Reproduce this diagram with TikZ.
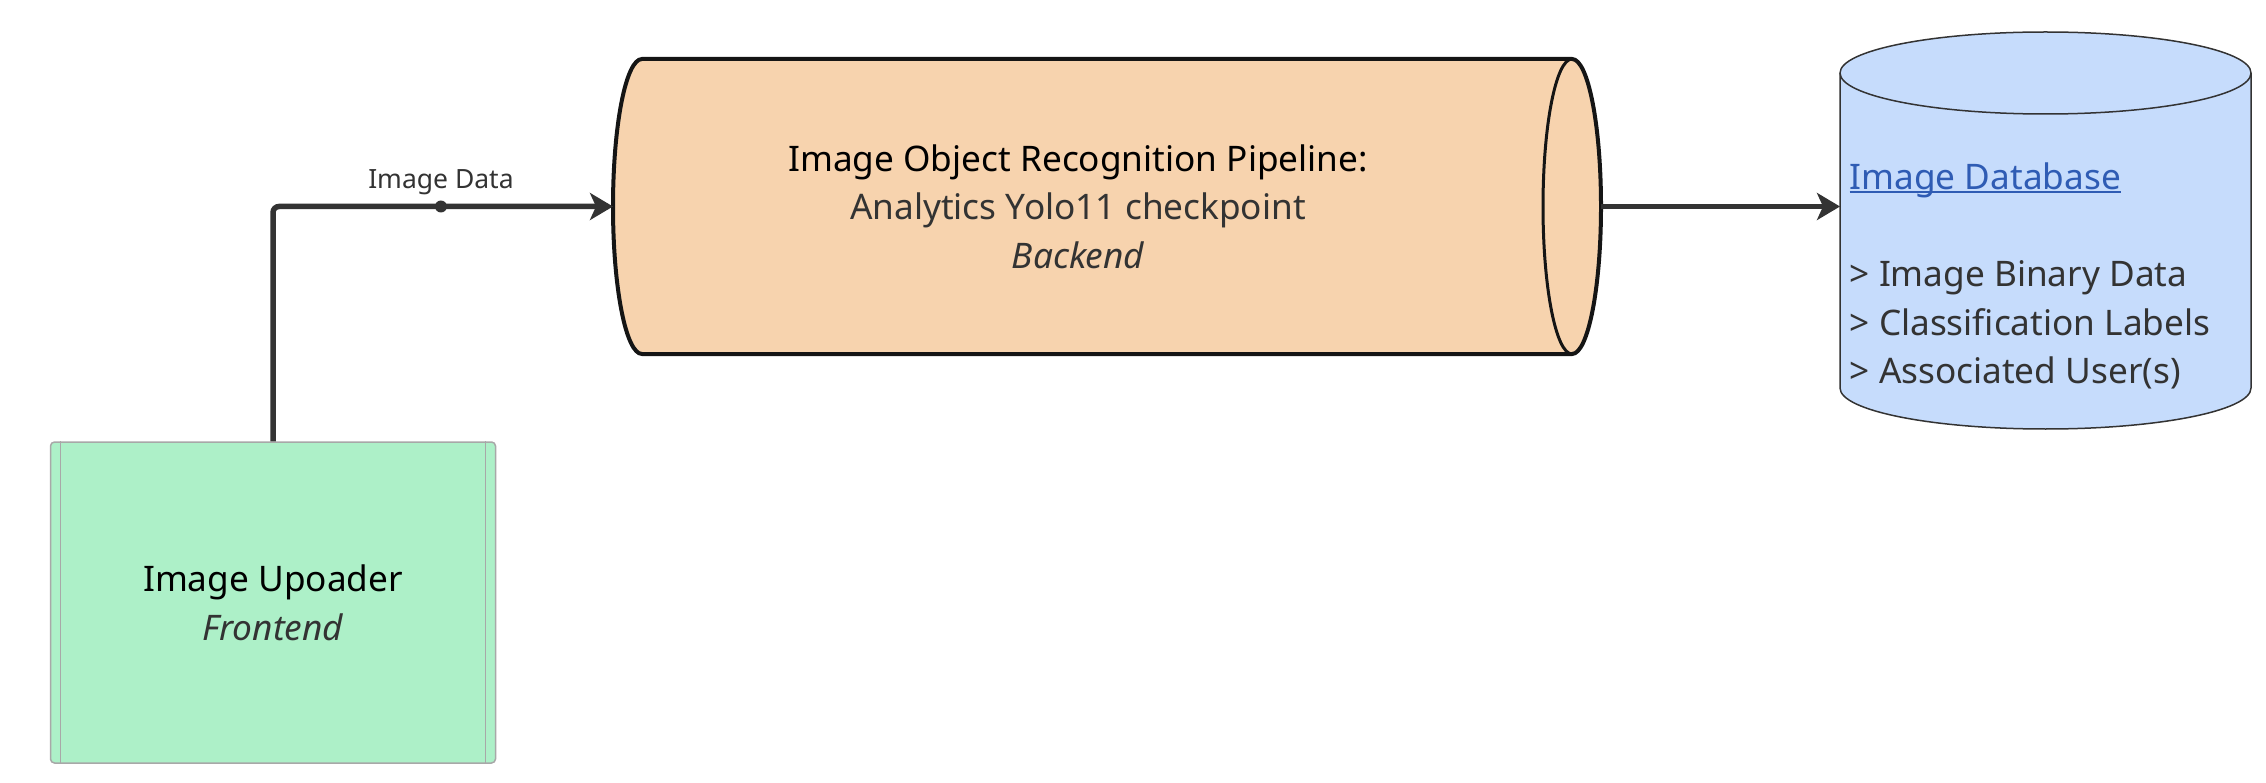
\documentclass[tikz,border=0pt]{standalone}
\usepackage{fontspec}
\setmainfont{Noto Sans}
\usetikzlibrary{arrows.meta}
\definecolor{upfill}{HTML}{ADF0C8}
\definecolor{upline}{HTML}{A8A8A8}
\definecolor{pipefill}{HTML}{F7D3AE}
\definecolor{pipeedge}{HTML}{151515}
\definecolor{dbfill}{HTML}{C6DCFC}
\definecolor{dbedge}{HTML}{333333}
\definecolor{ink}{HTML}{333333}
\definecolor{linkblue}{HTML}{2F5CB4}
\newcommand\myul[1]{\setbox0=\hbox{#1}\rlap{\rule[-3.5pt]{\wd0}{2pt}}\box0}
\tikzset{
  conn/.style={draw=ink, line width=5.5pt, rounded corners=6pt, -{Stealth[length=23pt,width=27pt,inset=6pt]}},
  big/.style={font=\fontsize{35.2}{48.5}\selectfont},
  lbl/.style={font=\fontsize{26.5}{30}\selectfont, text=ink, inner sep=0pt},
  upbox/.style={draw=upline, fill=upfill, line width=1.5pt, rounded corners=4pt, minimum width=445pt, minimum height=321pt, inner sep=0pt},
  holder/.style={inner sep=0pt, outer sep=0pt},
}
\begin{document}
\begin{tikzpicture}[x=1pt,y=1pt]
\useasboundingbox (0,0) rectangle (2266,-783);
% Uploader box
\node[upbox] (up) at (273,-602.5) {};
\draw[upline, line width=1.2pt] ([xshift=11pt]up.north west) -- ([xshift=11pt]up.south west);
\draw[upline, line width=1.2pt] ([xshift=-11pt]up.north east) -- ([xshift=-11pt]up.south east);
\node[big, align=center, inner sep=0pt] (uptext) at (273,-603) {Image Upoader\\{\color{ink}\itshape Frontend}};
% Pipeline cylinder
\draw[pipeedge, fill=pipefill, line width=4pt] (642,-59) -- (1572,-59)
  arc[start angle=90, end angle=-90, x radius=29, y radius=147.5] -- (642,-354)
  arc[start angle=270, end angle=90, x radius=29, y radius=147.5] -- cycle;
\draw[pipeedge, line width=3pt] (1572,-59) arc[start angle=90, end angle=270, x radius=29, y radius=147.5];
\node[holder, minimum width=988pt, minimum height=295pt] (pipe) at (1107,-206.5) {};
\node[big, align=center, inner sep=0pt] (pipetext) at (1078,-206.5) {Image Object Recognition Pipeline:\\{\color{ink}Analytics Yolo11 checkpoint}\\{\color{ink}\itshape Backend}};
% Database cylinder
\draw[dbedge, fill=dbfill, line width=1.5pt] (1840,-73) -- (1840,-388)
  arc[start angle=180, end angle=360, x radius=205.5, y radius=41] -- (2251,-73)
  arc[start angle=0, end angle=180, x radius=205.5, y radius=41] -- cycle;
\draw[dbedge, line width=1.5pt] (1840,-73) arc[start angle=180, end angle=360, x radius=205.5, y radius=41];
\node[holder, minimum width=411pt, minimum height=397pt] (db) at (2045.5,-230.5) {};
\node[big, align=left, anchor=west, inner sep=0pt, text=ink] (dbtext) at (1849.5,-276) {{\color{linkblue}\myul{Image Database}}\\[48.5pt]> Image Binary Data\\> Classification Labels\\> Associated User(s)};
% Connectors
\draw[conn] (up.north) |- (pipe.west) node[pos=0.747, circle, fill=ink, inner sep=0pt, minimum size=12pt] (dot) {};
\node[lbl, anchor=base] (lab) at ([yshift=17.8pt]dot.center) {Image Data};
\draw[conn] (pipe.east) -- (pipe.east -| db.west);
\end{tikzpicture}
\end{document}
